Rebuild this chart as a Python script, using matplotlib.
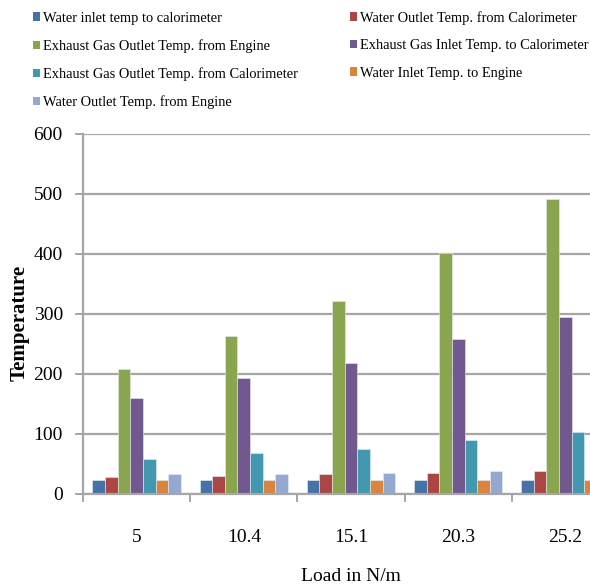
import numpy as np
import matplotlib
matplotlib.use("Agg")
import matplotlib.pyplot as plt
from matplotlib.patches import Patch

plt.rcParams['font.family'] = ['Liberation Serif', 'DejaVu Serif']

# loads (N/m) on the x axis
loads = ['5', '10.4', '15.1', '20.3', '25.2']

# temperatures for every series, one value per load
water_in_cal = [23, 23, 23, 23, 23]
water_out_cal = [28, 30.5, 33, 35.5, 38]
gas_out_engine = [208, 263, 322, 401, 491]
gas_in_cal = [160, 193, 218, 258, 295]
gas_out_cal = [58, 68, 75.5, 90.5, 103]
water_in_engine = [23, 23, 23, 23, 23]
water_out_engine = [33, 33, 35.5, 38, 40]

series_names = [
    'Water inlet temp to calorimeter',
    'Water Outlet Temp. from Calorimeter',
    'Exhaust Gas Outlet Temp. from Engine',
    'Exhaust Gas Inlet Temp. to Calorimeter',
    'Exhaust Gas Outlet Temp. from Calorimeter',
    'Water Inlet Temp. to Engine',
    'Water Outlet Temp. from Engine',
]
series_vals = [water_in_cal, water_out_cal, gas_out_engine, gas_in_cal,
               gas_out_cal, water_in_engine, water_out_engine]
couleurs = ['#4572A7', '#AA4643', '#89A54E', '#71588F',
            '#4198AF', '#DB843D', '#93A9CF']

W, H = 590, 588
fig = plt.figure(figsize=(W / 100, H / 100), dpi=100)
# the plot area runs past the right edge of the figure on purpose
ax = fig.add_axes([83 / W, 94 / H, 536 / W, 360 / H])

x = np.arange(len(loads))
bw = 0.118
for i, (vals, c) in enumerate(zip(series_vals, couleurs)):
    off = (i - 3) * bw
    ax.bar(x + off, vals, width=bw, color=c, edgecolor='#e8eef5',
           linewidth=0.4, zorder=3)

grid_c = '#a6a6a6'
ax.set_xlim(-0.5, len(loads) - 0.5)
ax.set_ylim(0, 600)
ax.set_yticks(range(0, 601, 100))
ax.yaxis.grid(True, color=grid_c, linewidth=1.6, zorder=0)
ax.set_axisbelow(True)

for s in ['top', 'right']:
    ax.spines[s].set_visible(False)
for s in ['left', 'bottom']:
    ax.spines[s].set_color(grid_c)
    ax.spines[s].set_linewidth(1.6)
    ax.spines[s].set_zorder(4)

ax.set_xticks(x)
ax.set_xticklabels(loads)
ax.set_xticks(np.arange(-0.5, len(loads), 1.0), minor=True)
ax.tick_params(axis='x', which='major', length=0, pad=25, labelsize=14)
ax.tick_params(axis='x', which='minor', length=6, width=1.4, color=grid_c)
ax.tick_params(axis='y', length=6, width=1.4, color=grid_c, pad=8.5,
               labelsize=14)

ax.set_ylabel('Temperature', fontsize=15, fontweight='bold')
ax.yaxis.set_label_coords(-0.118, 0.475)
ax.yaxis.label.set_va('center')
ax.set_xlabel('Load in N/m', fontsize=14)
ax.xaxis.set_label_coords(0.5, -0.205)

# legend laid out row by row: reorder so the two columns fill correctly
handles = [Patch(facecolor=c, edgecolor='none') for c in couleurs]
order = [0, 2, 4, 6, 1, 3, 5]
fig.legend([handles[k] for k in order], [series_names[k] for k in order],
           ncol=2, loc='upper left', bbox_to_anchor=(30 / W, 1 - 8 / H),
           frameon=False, fontsize=10.4, handlelength=0.5, handleheight=0.5,
           handletextpad=0.2, labelspacing=1.0, columnspacing=3.6,
           borderpad=0.2, borderaxespad=0)

fig.savefig('out.png', dpi=100)
